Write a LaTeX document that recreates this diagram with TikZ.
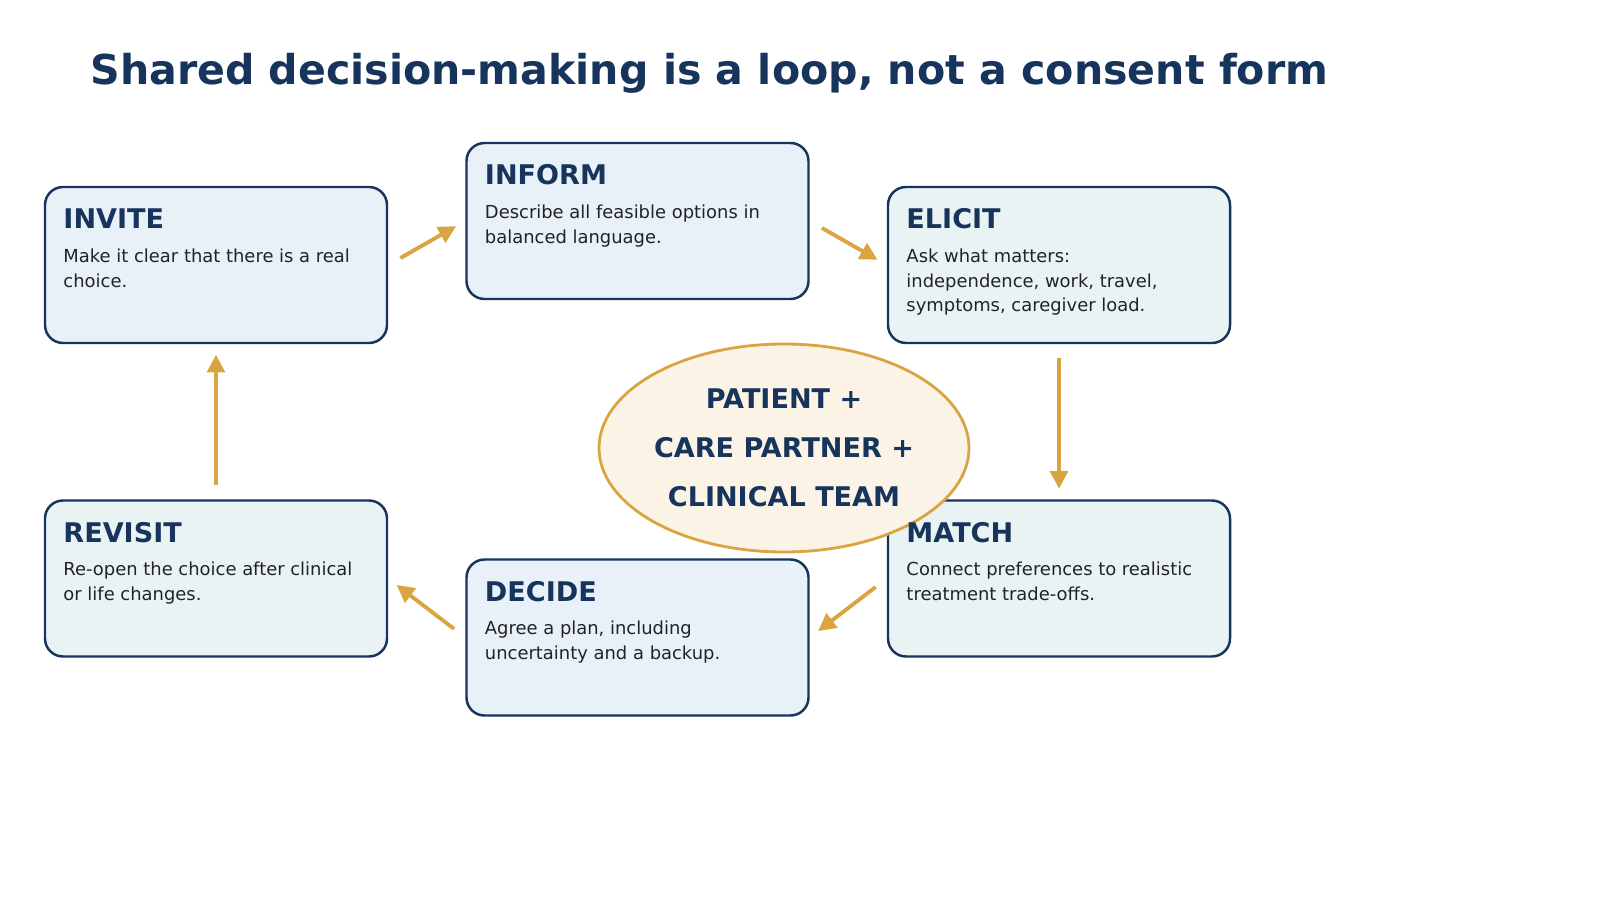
\documentclass[tikz,border=0pt]{standalone}
\usepackage{fontspec}
\setmainfont{DejaVu Sans}
\usetikzlibrary{arrows.meta,positioning,shapes.geometric}
\definecolor{navy}{HTML}{17345C}
\definecolor{gold}{HTML}{D9A441}
\definecolor{blueFill}{HTML}{E8F0F8}
\definecolor{greenFill}{HTML}{EAF3F3}
\definecolor{ovalFill}{HTML}{FBF4E6}
\definecolor{bodyText}{HTML}{222222}
\tikzset{
	stage/.style={draw=navy, line width=0.7pt, rounded corners=0.18cm,
			minimum width=3.42cm, minimum height=1.56cm, inner sep=0pt},
	head/.style={anchor=north west, inner sep=0pt, text=navy,
			font=\fontsize{7.7}{9}\selectfont\bfseries},
	body/.style={anchor=north west, inner sep=0pt, text=bodyText, align=left,
			font=\fontsize{5.1}{7.1}\selectfont},
	flow/.style={draw=gold, line width=1.1pt, -{Triangle[length=5pt,width=5pt]},
			shorten <=4pt, shorten >=3pt}
}
\begin{document}
\begin{tikzpicture}
	\useasboundingbox (0,0) rectangle (16,9);

	\node [anchor=base west, text=navy, font=\fontsize{11.7}{14}\selectfont\bfseries]
		(title) at (0.78,8.15) {Shared decision-making is a loop, not a consent form};

	% steps of the loop
	\node [stage, fill=blueFill]  (invite)  at (2.16,6.35) {};
	\node [stage, fill=blueFill]  (inform)  at (6.375,6.79) {};
	\node [stage, fill=greenFill] (elicit)  at (10.59,6.35) {};
	\node [stage, fill=greenFill] (match)   at (10.59,3.215) {};
	\node [stage, fill=blueFill]  (decide)  at (6.375,2.625) {};
	\node [stage, fill=greenFill] (revisit) at (2.16,3.215) {};

	\node [draw=gold, line width=0.8pt, fill=ovalFill, ellipse, minimum width=3.7cm,
		minimum height=2.08cm, inner sep=0pt, align=center, text=navy,
		font=\fontsize{7.7}{14}\selectfont\bfseries]
		(team) at (7.84,4.52) {PATIENT +\\CARE PARTNER +\\CLINICAL TEAM};

	% labels
	\foreach \n/\h/\b in {
			invite/INVITE/{Make it clear that there is a real\\choice.},
			inform/INFORM/{Describe all feasible options in\\balanced language.},
			elicit/ELICIT/{Ask what matters:\\independence, work, travel,\\symptoms, caregiver load.},
			match/MATCH/{Connect preferences to realistic\\treatment trade-offs.},
			decide/DECIDE/{Agree a plan, including\\uncertainty and a backup.},
			revisit/REVISIT/{Re-open the choice after clinical\\or life changes.}} {
		\node [head] (\n-head) at ([xshift=0.19cm, yshift=-0.22cm]\n.north west) {\h};
		\node [body] (\n-body) at ([xshift=0.19cm, yshift=-0.62cm]\n.north west) {\b};
	}

	% connectors
	\draw [flow] (invite.east) -- (inform.west);
	\draw [flow] (inform.east) -- (elicit.west);
	\draw [flow] (elicit.south) -- (match.north);
	\draw [flow] (match.west) -- (decide.east);
	\draw [flow] (decide.west) -- (revisit.east);
	\draw [flow] (revisit.north) -- (invite.south);
\end{tikzpicture}
\end{document}
